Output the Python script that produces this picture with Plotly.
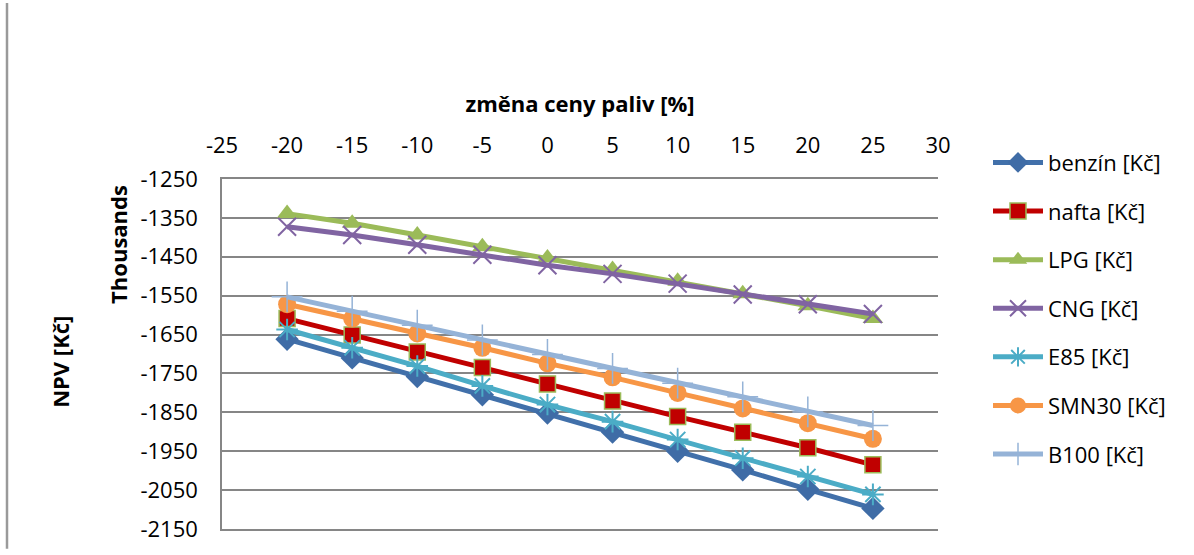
import plotly.graph_objects as go

# Fuel price change [%]
price_change = [-20, -15, -10, -5, 0, 5, 10, 15, 20, 25]

# NPV in thousands of Kč for each fuel
benzin = [-1662, -1710, -1758, -1805, -1852, -1901, -1950, -1998, -2048, -2097]
nafta = [-1609, -1651, -1695, -1735, -1777, -1821, -1861, -1901, -1941, -1985]
lpg = [-1339, -1364, -1394, -1424, -1453, -1483, -1513, -1545, -1576, -1609]
cng = [-1373, -1394, -1419, -1445, -1472, -1494, -1519, -1547, -1572, -1597]
e85 = [-1637, -1684, -1731, -1782, -1830, -1874, -1920, -1968, -2015, -2061]
smn30 = [-1572, -1609, -1647, -1684, -1724, -1760, -1800, -1840, -1878, -1918]
b100 = [-1553, -1590, -1626, -1664, -1701, -1737, -1775, -1810, -1849, -1884]

# Axis ticks (labels use a plain hyphen for the minus sign)
x_ticks = [-25, -20, -15, -10, -5, 0, 5, 10, 15, 20, 25, 30]
y_ticks = [-2150, -2050, -1950, -1850, -1750, -1650, -1550, -1450, -1350, -1250]

FONT = "Open Sans"
FS = 22

series = [
    ("benzín [Kč]", benzin, "#4170AA", dict(symbol="diamond", size=18, color="#3F6CA6")),
    ("nafta [Kč]", nafta, "#C00000", dict(symbol="square", size=16, color="#C00000",
                                          line=dict(color="#9BBB59", width=1.5))),
    ("LPG [Kč]", lpg, "#9BBB59", dict(symbol="triangle-up", size=18, color="#9BBB59")),
    ("CNG [Kč]", cng, "#8064A2", dict(symbol="x-thin-open", size=18,
                                      line=dict(color="#8064A2", width=2))),
    ("E85 [Kč]", e85, "#4BACC6", dict(symbol="asterisk-open", size=18,
                                      line=dict(color="#4BACC6", width=2))),
    ("SMN30 [Kč]", smn30, "#F79646", dict(symbol="circle", size=18, color="#F79646")),
    ("B100 [Kč]", b100, "#95B3D7", dict(symbol="cross-thin-open", size=22,
                                        line=dict(color="#95B3D7", width=1.5))),
]

fig = go.Figure()
for i, (name, vals, color, marker) in enumerate(series):
    fig.add_trace(go.Scatter(
        x=price_change, y=vals, name=name, mode="lines+markers",
        line=dict(color=color, width=5),
        marker=marker, legendgroup=str(i),
    ))

L, R, T, B = 222, 256, 179, 20
W, H = 1194, 555
plot_w, plot_h = W - L - R, H - T - B


def px_x(px):
    return (px - L) / plot_w


def px_y(py):
    return (H - B - py) / plot_h


fig.update_layout(
    width=W, height=H,
    margin=dict(l=L, r=R, t=T, b=B),
    paper_bgcolor="white", plot_bgcolor="white",
    font=dict(family=FONT, size=FS, color="#000000"),
    showlegend=True,
    legend=dict(
        x=px_x(988), y=px_y(141), xanchor="left", yanchor="top",
        font=dict(family=FONT, size=FS, color="#000000"),
        tracegroupgap=17, itemwidth=50, maxheight=520,
        bgcolor="rgba(0,0,0,0)",
    ),
    xaxis=dict(
        side="top", range=[-25, 30],
        tickvals=x_ticks, ticktext=[str(v) for v in x_ticks],
        showgrid=False, zeroline=False,
        showline=True, mirror=True, linecolor="#868686", linewidth=1.5,
        ticks="", ticklabelstandoff=15,
        title=dict(text="<b>změna ceny paliv [%]</b>", standoff=11,
                   font=dict(family=FONT, size=FS)),
    ),
    yaxis=dict(
        range=[-2150, -1250],
        tickvals=y_ticks, ticktext=[str(v) for v in y_ticks],
        showgrid=True, gridcolor="#868686", gridwidth=1.5,
        zeroline=False, showline=True, linecolor="#868686", linewidth=1.5,
        ticks="", ticklabelstandoff=18,
    ),
    annotations=[
        dict(text="<b>Thousands</b>", textangle=-90, x=px_x(118), y=px_y(245),
             xref="paper", yref="paper", showarrow=False,
             xanchor="center", yanchor="middle",
             font=dict(family=FONT, size=FS)),
        dict(text="<b>NPV [Kč]</b>", textangle=-90, x=px_x(60), y=px_y(365),
             xref="paper", yref="paper", showarrow=False,
             xanchor="center", yanchor="middle",
             font=dict(family=FONT, size=FS)),
    ],
    shapes=[
        dict(type="line", xref="paper", yref="paper",
             x0=px_x(7), x1=px_x(7), y0=px_y(H), y1=px_y(0),
             line=dict(color="#9A9A9A", width=2.5)),
    ],
)

fig.write_html("out.html")
